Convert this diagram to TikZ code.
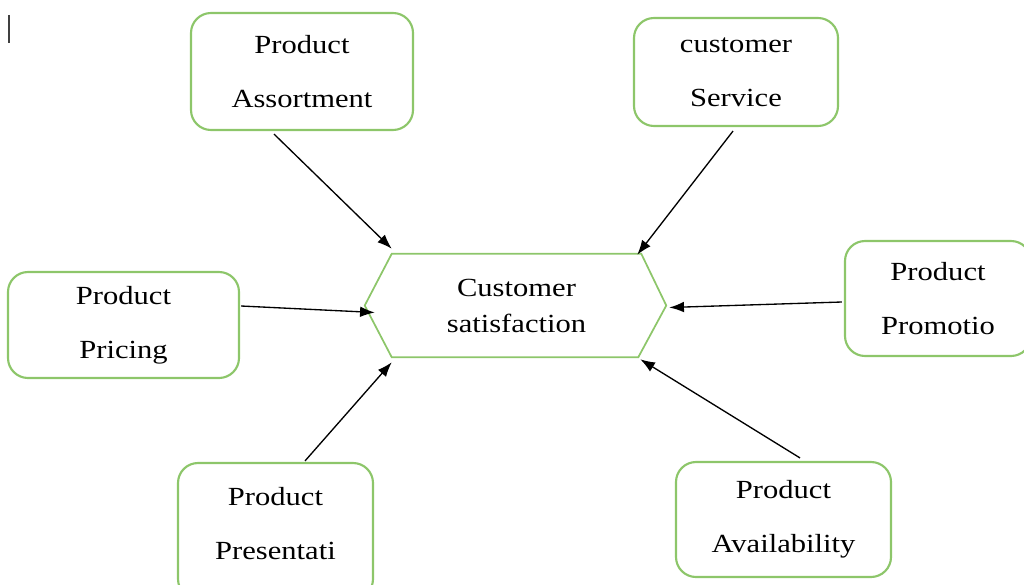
\documentclass[tikz,border=0pt]{standalone}
\usepackage{fontspec}
\setmainfont{Liberation Serif}[FakeStretch=1.17]
\usetikzlibrary{arrows.meta,calc}
\definecolor{boxgreen}{RGB}{141,198,106}

\begin{document}
\begin{tikzpicture}[x=0.75pt,
					y=-0.75pt,
					>={Latex[length=11pt,width=8pt]},
					factor node/.style={draw=boxgreen,line width=1.6pt,rounded corners=15pt,
						align=center,inner sep=0pt,font=\fontsize{19.6}{40.5}\selectfont},
					sat node/.style={align=center,inner sep=0pt,
						minimum width=186.75pt,minimum height=77.25pt,
						font=\fontsize{19.6}{27}\selectfont},
					hex line/.style={draw=boxgreen,line width=1.3pt},
					link/.style={->,line width=1pt}]

  \useasboundingbox (0,0) rectangle (1024,585);
  \clip (0,0) rectangle (1024,585);

  % cursor mark
  \draw[line width=1.4pt,black!75] (9,15) -- (9,43);

  % centre
  \node[sat node] (sat) at (516.5,305.5) {Customer\\satisfaction};
  \coordinate (satL) at ($(sat.west)+(-27,0)$);
  \coordinate (satR) at ($(sat.east)+(25,0)$);
  \draw[hex line] (sat.north west) -- (sat.north east) -- (satR)
    -- ($(sat.south east)+(-3,0)$) -- (sat.south west) -- (satL) -- cycle;

  % factors
  \node[factor node,minimum width=166.5pt,minimum height=87.75pt] (assort) at (302,71.5) {Product\\Assortment};
  \node[factor node,minimum width=153pt,minimum height=81pt] (serv) at (736,72) {customer\\Service};
  \node[factor node,minimum width=173.25pt,minimum height=79.5pt] (price) at (123.5,325) {Product\\Pricing};
  \node[factor node,minimum width=139.5pt,minimum height=86.25pt] (promo) at (938,298.5) {Product\\Promotio};
  \node[factor node,minimum width=146.25pt,minimum height=102pt,text depth=12pt] (pres) at (275.5,531) {Product\\Presentati};
  \node[factor node,minimum width=161.25pt,minimum height=86.25pt] (avail) at (783.5,519.5) {Product\\Availability};

  \path[link]
    ($(assort.south)+(-28,3)$) edge ($(sat.north west)+(0,-5)$)
    ($(serv.south)+(-3,4)$)    edge ($(sat.north east)+(-4,1)$)
    ($(price.east)+(1,-19)$)   edge ($(satL)+(10,7)$)
    ($(promo.west)+(-2,3.5)$)  edge ($(satR)+(3,2)$)
    ($(pres.north)+(29.5,-1)$) edge ($(sat.south west)+(0,5)$)
    ($(avail.north)+(16.5,-3)$) edge ($(sat.south east)+(-1,2)$);
\end{tikzpicture}
\end{document}
